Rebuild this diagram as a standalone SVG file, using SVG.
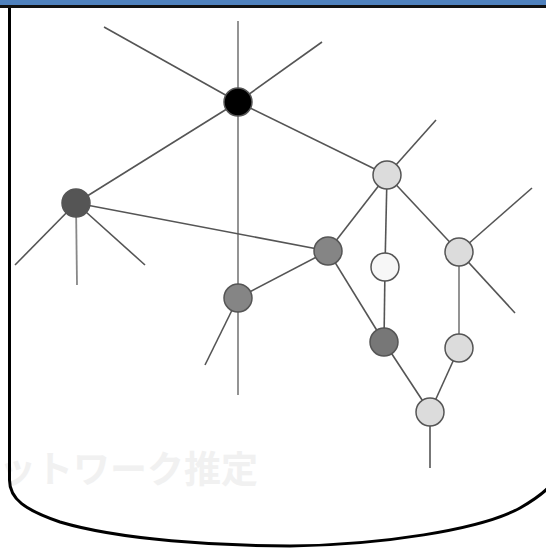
<svg xmlns="http://www.w3.org/2000/svg" width="546" height="549" viewBox="0 0 546 549">
<style>
.e{stroke:#555;stroke-width:1.6;fill:none}
.v{stroke:#888;stroke-width:1.8;fill:none}
.n{stroke:#555;stroke-width:1.5}
.wm{font-family:"Noto Sans CJK JP","Noto Sans",sans-serif;font-size:37px;font-weight:bold;fill:#f1f1f1}
</style>
<rect x="0" y="0" width="546" height="549" fill="#fff"/>
<rect x="0" y="0" width="546" height="5" fill="#4f81bd"/>
<rect x="0" y="5" width="546" height="3" fill="#111"/>
<text class="wm" x="-1" y="483">ットワーク推定</text>
<path d="M9.5 8 V480 C9.5 499 25 510 60 522 C120 540 220 546 290 546 C380 545 480 530 520 508 C534 500 542 494 548 488" fill="none" stroke="#000" stroke-width="3"/>
<g id="connectors">
<line class="e" x1="238" y1="102" x2="104" y2="27"/>
<line class="v" x1="238" y1="102" x2="238" y2="21"/>
<line class="e" x1="238" y1="102" x2="322" y2="42"/>
<line class="v" x1="238" y1="102" x2="238" y2="395"/>
<line class="e" x1="238" y1="102" x2="76" y2="203"/>
<line class="e" x1="238" y1="102" x2="387" y2="175"/>
<line class="e" x1="76" y1="203" x2="15" y2="265"/>
<line class="v" x1="76" y1="203" x2="77" y2="285"/>
<line class="e" x1="76" y1="203" x2="145" y2="265"/>
<line class="e" x1="76" y1="203" x2="328" y2="251"/>
<line class="e" x1="238" y1="298" x2="328" y2="251"/>
<line class="e" x1="238" y1="298" x2="205" y2="365"/>
<line class="e" x1="328" y1="251" x2="387" y2="175"/>
<line class="e" x1="328" y1="251" x2="384" y2="342"/>
<line class="e" x1="387" y1="175" x2="436" y2="120"/>
<line class="e" x1="387" y1="175" x2="385" y2="267"/>
<line class="e" x1="387" y1="175" x2="459" y2="252"/>
<line class="e" x1="385" y1="267" x2="384" y2="342"/>
<line class="e" x1="384" y1="342" x2="430" y2="412"/>
<line class="e" x1="459" y1="252" x2="532" y2="188"/>
<line class="e" x1="459" y1="252" x2="515" y2="313"/>
<line class="v" x1="459" y1="252" x2="459" y2="348"/>
<line class="e" x1="459" y1="348" x2="430" y2="412"/>
<line class="e" x1="430" y1="412" x2="430" y2="468"/>
</g>
<g id="n-hub"><circle class="n" cx="238" cy="102" r="14" fill="#000"/></g>
<g id="n-left"><circle class="n" cx="76" cy="203" r="14" fill="#555"/></g>
<g id="n-mid"><circle class="n" cx="328" cy="251" r="14" fill="#858585"/></g>
<g id="n-low"><circle class="n" cx="238" cy="298" r="14" fill="#858585"/></g>
<g id="n-top"><circle class="n" cx="387" cy="175" r="14" fill="#dcdcdc"/></g>
<g id="n-white"><circle class="n" cx="385" cy="267" r="14" fill="#f7f7f7"/></g>
<g id="n-dark"><circle class="n" cx="384" cy="342" r="14" fill="#777"/></g>
<g id="n-right"><circle class="n" cx="459" cy="252" r="14" fill="#dcdcdc"/></g>
<g id="n-right2"><circle class="n" cx="459" cy="348" r="14" fill="#dcdcdc"/></g>
<g id="n-bottom"><circle class="n" cx="430" cy="412" r="14" fill="#dcdcdc"/></g>
</svg>
